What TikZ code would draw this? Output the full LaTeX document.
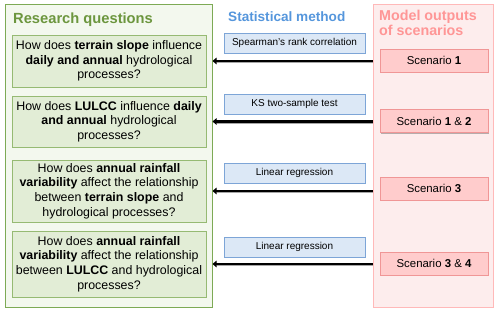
\documentclass[tikz,border=0pt]{standalone}
\usepackage{fontspec}
\setmainfont{Liberation Sans}
\usetikzlibrary{shadows,arrows.meta}
\definecolor{gouterfill}{RGB}{243,248,238}
\definecolor{gouterdraw}{RGB}{125,170,85}
\definecolor{gtitle}{RGB}{108,150,62}
\definecolor{qfill}{RGB}{226,237,214}
\definecolor{qdraw}{RGB}{150,186,115}
\definecolor{btitle}{RGB}{85,150,220}
\definecolor{mfill}{RGB}{220,232,246}
\definecolor{mdraw}{RGB}{125,165,215}
\definecolor{pouterfill}{RGB}{253,237,237}
\definecolor{pouterdraw}{RGB}{255,185,185}
\definecolor{ptitle}{RGB}{255,150,150}
\definecolor{sfill}{RGB}{255,204,204}
\definecolor{sdraw}{RGB}{240,150,150}
\tikzset{
  shad/.style={drop shadow={shadow xshift=1.3pt,shadow yshift=-1.3pt,opacity=0.4,fill=black!70}},
  qbox/.style={draw=qdraw,fill=qfill,line width=0.9pt,minimum width=194pt,align=center,inner sep=0pt,shad,
     font=\fontsize{12.4}{14.6}\selectfont},
  mbox/.style={draw=mdraw,fill=mfill,line width=0.8pt,minimum width=141pt,minimum height=20pt,inner sep=0pt,shad,
     font=\fontsize{10}{11}\selectfont},
  sbox/.style={draw=sdraw,fill=sfill,line width=0.8pt,minimum width=108pt,minimum height=23pt,inner sep=0pt,shad,
     font=\fontsize{11.4}{13}\selectfont},
  outer/.style={line width=1pt,inner sep=0pt},
  conn/.style={line width=2.2pt,-{Triangle[length=4pt,width=6.5pt]}},
  connshadow/.style={line width=2.2pt,black!35},
  ttl/.style={inner sep=0pt,font=\fontsize{14.5}{16}\selectfont\bfseries},
}
\begin{document}
\begin{tikzpicture}[x=1pt,y=-1pt]
\useasboundingbox (0,0) rectangle (500,313);
% outer boxes
\node[outer,draw=gouterdraw,fill=gouterfill,minimum width=207pt,minimum height=302pt] (gout) at (108.5,156) {};
\node[outer,draw=pouterdraw,fill=pouterfill,minimum width=120pt,minimum height=302pt] (pout) at (433,156) {};
% titles
\node[ttl,anchor=base west,text=gtitle,font=\fontsize{14.7}{16}\selectfont\bfseries] (t1) at (13,24) {Research questions};
\node[ttl,anchor=base west,text=btitle,font=\fontsize{13.6}{16}\selectfont\bfseries] (t2) at (228,21.5) {Statistical method};
\node[ttl,anchor=base west,text=ptitle,font=\fontsize{14.3}{16}\selectfont\bfseries] (t3) at (379,21) {Model outputs};
\node[ttl,anchor=base west,text=ptitle,font=\fontsize{14.3}{16}\selectfont\bfseries] (t4) at (379,36) {of scenarios};
% question boxes
\node[qbox,minimum height=52pt] (q1) at (109,61) {How does \textbf{terrain slope} influence\\\textbf{daily and annual} hydrological\\processes?};
\node[qbox,minimum height=51pt] (q2) at (109,121.5) {How does \textbf{LULCC} influence \textbf{daily}\\\textbf{and annual} hydrological\\processes?};
\node[qbox,minimum height=62pt] (q3) at (109,191) {How does \textbf{annual rainfall}\\\textbf{variability} affect the relationship\\between \textbf{terrain slope} and\\hydrological processes?};
\node[qbox,minimum height=66pt] (q4) at (109,264) {How does \textbf{annual rainfall}\\\textbf{variability} affect the relationship\\between \textbf{LULCC} and hydrological\\processes?};
% method boxes
\node[mbox] (m1) at (294.5,43) {Spearman's rank correlation};
\node[mbox] (m2) at (294.5,104) {KS two-sample test};
\node[mbox] (m3) at (294.5,173) {Linear regression};
\node[mbox] (m4) at (294.5,247) {Linear regression};
% scenario boxes
\node[sbox] (s1) at (434,60.5) {Scenario \textbf{1}};
\node[sbox] (s2) at (434,121) {Scenario \textbf{1} \& \textbf{2}};
\node[sbox] (s3) at (434,188.5) {Scenario \textbf{3}};
\node[sbox] (s4) at (434,263.5) {Scenario \textbf{3} \& \textbf{4}};
% connectors
\foreach \q in {1,2,3,4}{
  \draw[connshadow] ([yshift=-1pt]pout.west |- q\q.east) -- ([xshift=4pt,yshift=-1pt]gout.east |- q\q.east);
  \draw[conn] (pout.west |- q\q.east) -- (gout.east |- q\q.east);
}
\end{tikzpicture}
\end{document}
